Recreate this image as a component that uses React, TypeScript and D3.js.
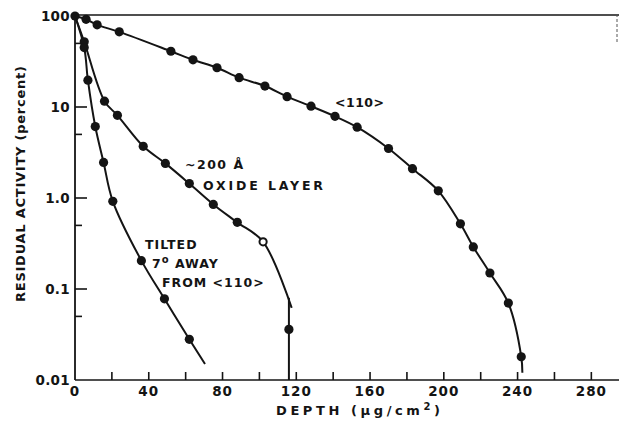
import * as d3 from "d3";

// axis ticks
const depthLabels = [0, 40, 80, 120, 160, 200, 240, 280];
const depthTicks = [20, 40, 60, 80, 100, 120, 140, 160, 180, 200, 220, 240, 260, 280];
const activityTicks = [100, 10, 1, 0.1, 0.01];
const activityLabels = ["100", "10", "1.0", "0.1", "0.01"];
const halfDecadeTicks = [50, 5, 0.5, 0.05];

// <110> channeled
const ch110Depth = [0, 6, 12, 24, 52, 64, 77, 89, 103, 115, 128, 141, 153, 170, 183, 197, 209, 216, 225, 235, 242];
const ch110Activity = [100, 92, 80, 67, 41, 33, 27, 21, 17, 13, 10.2, 7.9, 6.0, 3.5, 2.1, 1.2, 0.52, 0.29, 0.15, 0.07, 0.018];
const ch110End = [242.6, 0.012];

// ~200 A oxide layer
const oxideDepth = [0, 5, 16, 23, 37, 49, 62, 75, 88, 102];
const oxideActivity = [100, 52, 11.6, 8.1, 3.7, 2.4, 1.44, 0.85, 0.54, 0.33];
const oxideEnd = [117.5, 0.062];
const oxideDropDepth = 116;
const oxideDropActivity = [0.08, 0.036, 0.01];

// tilted 7 deg away from <110>
const tiltDepth = [0, 5, 7, 11, 15.5, 20.5, 36, 48.5, 62];
const tiltActivity = [100, 45, 19.7, 6.1, 2.46, 0.92, 0.205, 0.078, 0.028];
const tiltEnd = [70.5, 0.015];

const W = 619;
const H = 426;
const ink = "#141414";
const font = "'DejaVu Sans', sans-serif";

export default function App() {
  const x = d3.scaleLinear().domain([0, 295]).range([75, 619]);
  const y = d3.scaleLog().domain([0.01, 100]).range([380, 16]);

  const line = d3
    .line<[number, number]>()
    .x((d) => x(d[0]))
    .y((d) => y(d[1]))
    .curve(d3.curveCatmullRom.alpha(0.5));

  const zip = (a: number[], b: number[]) => a.map((v, i) => [v, b[i]] as [number, number]);

  const ch110 = zip(ch110Depth, ch110Activity);
  const oxide = zip(oxideDepth, oxideActivity);
  const tilt = zip(tiltDepth, tiltActivity);

  const dots: [number, number, boolean][] = [
    ...ch110.map((d) => [d[0], d[1], false] as [number, number, boolean]),
    ...oxide.slice(1).map((d, i) => [d[0], d[1], i === oxide.length - 2] as [number, number, boolean]),
    ...tilt.slice(1).map((d) => [d[0], d[1], false] as [number, number, boolean]),
    [oxideDropDepth, oxideDropActivity[1], false],
  ];

  return (
    <svg
      width={W}
      height={H}
      style={{ position: "absolute", left: 0, top: 0, background: "#fff" }}
      fontFamily={font}
      fontWeight="bold"
    >
      <rect width={W} height={H} fill="#fff" />
      {/* frame */}
      <line x1={x(0) - 3} x2={W} y1={y(100) - 1} y2={y(100) - 1} stroke={ink} strokeWidth={1.6} />
      <line x1={W - 2} x2={W - 2} y1={y(100) - 2} y2={y(50)} stroke="#555" strokeWidth={1} strokeDasharray="3 2" />
      <line x1={x(0)} x2={x(0)} y1={y(100)} y2={y(0.01)} stroke={ink} strokeWidth={1.8} />
      <line x1={x(0)} x2={W} y1={y(0.01)} y2={y(0.01)} stroke={ink} strokeWidth={1.6} />

      {/* x ticks */}
      {depthTicks.map((t) => (
        <line key={"xt" + t} x1={x(t)} x2={x(t)} y1={y(0.01)} y2={y(0.01) - 8} stroke={ink} strokeWidth={1.6} />
      ))}
      {depthLabels.map((t) => (
        <text key={"xl" + t} x={x(t)} y={396} textAnchor="middle" fontSize={13.5} fill={ink} letterSpacing={1}>
          {t}
        </text>
      ))}

      {/* y ticks */}
      {activityTicks.map((t, i) => (
        <g key={"yt" + t}>
          {i > 0 && i < activityTicks.length - 1 && (
            <line x1={x(0)} x2={x(0) + 12} y1={y(t)} y2={y(t)} stroke={ink} strokeWidth={1.6} />
          )}
          <text x={x(0) - 5} y={y(t) + 5} textAnchor="end" fontSize={13.5} fill={ink} letterSpacing={0.3}>
            {activityLabels[i]}
          </text>
        </g>
      ))}
      {halfDecadeTicks.map((t) => (
        <line key={"ym" + t} x1={x(0)} x2={x(0) + 7} y1={y(t)} y2={y(t)} stroke={ink} strokeWidth={1.6} />
      ))}

      {/* axis titles */}
      <text x={276} y={415} fontSize={13} fill={ink} textLength={164} lengthAdjust="spacing">
        DEPTH (μg/cm<tspan dy={-5} fontSize={10}>2</tspan><tspan dy={5}>)</tspan>
      </text>
      <text
        transform={`translate(25,${302}) rotate(-90)`}
        fontSize={13}
        fill={ink}
        textLength={236}
        lengthAdjust="spacing"
      >
        RESIDUAL ACTIVITY (percent)
      </text>

      {/* curves */}
      <g fill="none" stroke={ink} strokeWidth={2}>
        <path d={line([...ch110, ch110End as [number, number]]) ?? ""} />
        <path d={line([...oxide, oxideEnd as [number, number]]) ?? ""} />
        <path d={line([...tilt, tiltEnd as [number, number]]) ?? ""} />
        <line
          x1={x(oxideDropDepth)}
          x2={x(oxideDropDepth)}
          y1={y(oxideDropActivity[0])}
          y2={y(oxideDropActivity[2])}
        />
      </g>

      {/* points */}
      {dots.map((d, i) => (
        <circle
          key={"p" + i}
          cx={x(d[0])}
          cy={y(d[1])}
          r={d[2] ? 3.6 : 4.6}
          fill={d[2] ? "#fff" : ink}
          stroke={ink}
          strokeWidth={d[2] ? 2 : 0}
        />
      ))}

      {/* annotations */}
      <g fontSize={12.5} fill={ink}>
        <text x={335} y={107} letterSpacing={0.5}>&lt;110&gt;</text>
        <text x={185} y={169} letterSpacing={1.5}>~200 Å</text>
        <text x={203} y={190} textLength={120} lengthAdjust="spacing">OXIDE LAYER</text>
        <text x={145} y={249} letterSpacing={1}>TILTED</text>
        <text x={152} y={268} letterSpacing={1}>
          7<tspan dy={-5} fontSize={10}>o</tspan>
          <tspan dy={5}> AWAY</tspan>
        </text>
        <text x={162} y={287} letterSpacing={1}>FROM &lt;110&gt;</text>
      </g>
    </svg>
  );
}
